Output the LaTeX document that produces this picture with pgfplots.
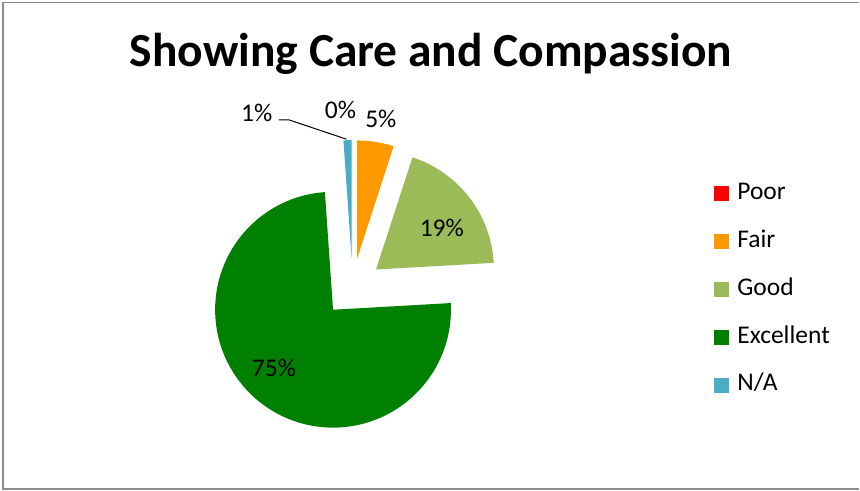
\documentclass[border=0pt]{standalone}
\usepackage{fontspec}
\setmainfont{Carlito}
\usepackage{pgfplots}
\pgfplotsset{compat=1.18}
\definecolor{poorc}{HTML}{FF0000}
\definecolor{fairc}{HTML}{FF9900}
\definecolor{goodc}{HTML}{9BBB59}
\definecolor{excc}{HTML}{008000}
\definecolor{nac}{HTML}{4BACC6}
\def\pieX{352.9}\def\pieY{203.2}\def\pieR{118}\def\pieD{29.6}
% #1 = cumulative percent before slice, #2 = slice percent, #3 = colour
\newcommand{\slice}[3]{%
  \pgfmathsetmacro\sa{90-3.6*#1}%
  \pgfmathsetmacro\ea{90-3.6*(#1+#2)}%
  \pgfmathsetmacro\ma{(\sa+\ea)/2}%
  \pgfmathsetmacro\vx{\pieX+\pieD*cos(\ma)}%
  \pgfmathsetmacro\vy{\pieY+\pieD*sin(\ma)}%
  \edef\temp{\noexpand\fill[#3] (axis cs:\vx,\vy) -- ++(\sa:\pieR pt) arc[start angle=\sa, end angle=\ea, radius=\pieR pt] -- cycle;}%
  \temp}
\begin{document}
\begin{tikzpicture}
\begin{axis}[x=1pt,y=1pt,xmin=0,xmax=860,ymin=0,ymax=491,
  hide axis, clip=false, at={(0,0)}, anchor=south west,
  legend cell align=left,
  legend image code/.code={\fill[#1, draw=none] (0pt,-7.5pt) rectangle (15pt,7.5pt);},
  legend style={draw=none, fill=none, inner sep=0pt, outer sep=0pt,
    at={(0.8314,0.6287)}, anchor=north west,
    font=\fontsize{25.5}{30}\selectfont,
    nodes={inner sep=0pt, text height=17pt, text depth=6pt},
    row sep=25pt, column sep=8pt}]
\fill[white] (axis cs:0,0) rectangle (axis cs:860,491);
\draw[color={rgb,255:red,140;green,140;blue,140}, line width=1.5pt]
  (axis cs:860,488.5) -- (axis cs:3,488.5) -- (axis cs:3,1.5) -- (axis cs:860,1.5);
% slices: Poor 0.0, Fair 5.0, Good 19.1, Excellent 74.8, N/A 1.1
\slice{0.0}{5.0}{fairc}
\slice{5.0}{19.1}{goodc}
\slice{24.1}{74.8}{excc}
\slice{98.9}{1.1}{nac}
\addlegendimage{fill=poorc, draw=none}\addlegendentry{Poor}
\addlegendimage{fill=fairc, draw=none}\addlegendentry{Fair}
\addlegendimage{fill=goodc, draw=none}\addlegendentry{Good}
\addlegendimage{fill=excc, draw=none}\addlegendentry{Excellent}
\addlegendimage{fill=nac, draw=none}\addlegendentry{N/A}
\node[anchor=base, font=\fontsize{47.5}{56}\selectfont\bfseries] at (axis cs:431.5,424.3) {Showing Care and Compassion};
\draw[black, line width=1pt] (axis cs:279,371) -- (axis cs:289.3,371) -- (axis cs:346.7,351.7);
\begin{scope}[every node/.style={anchor=base, inner sep=0pt, font=\fontsize{25.5}{30}\selectfont}]
\node at (axis cs:274.2,114.3) {75\%};
\node at (axis cs:442.2,254.3) {19\%};
\node at (axis cs:381.2,363.3) {5\%};
\node at (axis cs:340.8,372.7) {0\%};
\node at (axis cs:257,369.3) {1\%};
\end{scope}
\end{axis}
\end{tikzpicture}
\end{document}
